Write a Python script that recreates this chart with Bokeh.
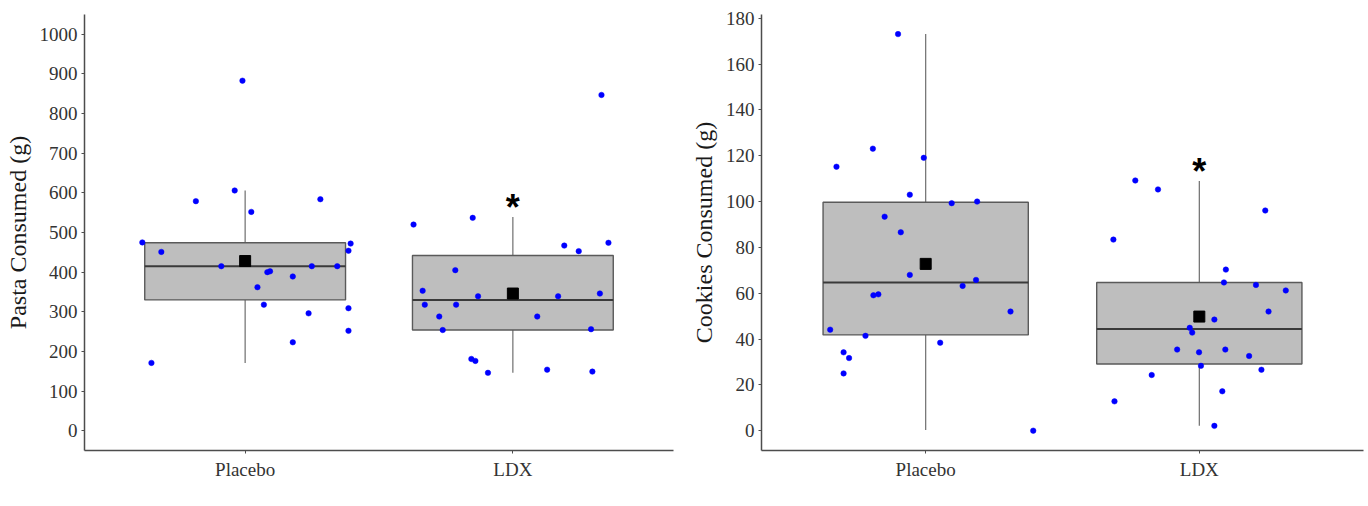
from bokeh.plotting import figure
from bokeh.layouts import row
from bokeh.models import FixedTicker, Range1d, ColumnDataSource
from bokeh.embed import file_html
from bokeh.resources import INLINE
from bokeh.core.properties import value

groups = ["Placebo", "LDX"]

# ---- Pasta panel data (g) ----
pasta_placebo = [883, 579, 606, 552, 584, 475, 472, 451, 454, 415, 400, 402, 389, 415, 415,
                 362, 318, 309, 296, 252, 223, 171]
pasta_placebo_jit = [-0.010, -0.184, -0.039, 0.023, 0.281, -0.384, 0.394, -0.313, 0.386, -0.089,
                     0.083, 0.093, 0.178, 0.249, 0.344, 0.046, 0.070, 0.386, 0.237, 0.386, 0.178, -0.350]
pasta_ldx = [847, 520, 537, 467, 474, 453, 405, 353, 318, 339, 318, 339, 346, 288, 288,
             254, 256, 181, 176, 146, 154, 149]
pasta_ldx_jit = [0.331, -0.371, -0.150, 0.192, 0.357, 0.246, -0.215, -0.337, -0.329, -0.130,
                 -0.212, 0.169, 0.325, -0.275, 0.091, -0.262, 0.292, -0.155, -0.140, -0.093, 0.128, 0.297]
pasta_q1 = [330, 254]
pasta_median = [415, 330]
pasta_q3 = [474, 442]
pasta_lo = [171, 146]
pasta_hi = [606, 539]
pasta_mean = [428, 346]
pasta_sig = [False, True]
pasta_ticks = [0, 100, 200, 300, 400, 500, 600, 700, 800, 900, 1000]

# ---- Cookies panel data (g) ----
cookies_placebo = [173.1, 123.1, 115.2, 119.1, 103.0, 99.3, 100.0, 93.4, 86.6, 68.0, 63.2, 65.8,
                   59.1, 59.5, 52.0, 44.1, 41.4, 38.4, 34.2, 31.7, 25.0, 0.0]
cookies_placebo_jit = [-0.101, -0.193, -0.326, -0.007, -0.058, 0.095, 0.188, -0.150, -0.091, -0.058,
                       0.135, 0.184, -0.191, -0.173, 0.310, -0.349, -0.220, 0.053, -0.300, -0.280,
                       -0.300, 0.393]
cookies_ldx = [109.2, 105.3, 83.4, 96.1, 70.3, 64.7, 63.6, 61.2, 52.0, 48.5, 44.9, 42.8, 35.4,
               34.2, 35.4, 32.6, 28.3, 26.6, 24.3, 17.2, 12.8, 2.1]
cookies_ldx_jit = [-0.234, -0.151, -0.314, 0.241, 0.097, 0.090, 0.207, 0.316, 0.253, 0.055, -0.035,
                   -0.026, -0.081, -0.001, 0.095, 0.182, 0.006, 0.227, -0.174, 0.084, -0.310, 0.055]
cookies_q1 = [41.8, 29.1]
cookies_median = [64.7, 44.4]
cookies_q3 = [99.7, 64.7]
cookies_lo = [0.3, 2.2]
cookies_hi = [173.1, 109.0]
cookies_mean = [72.8, 49.8]
cookies_sig = [False, True]
cookies_ticks = [0, 20, 40, 60, 80, 100, 120, 140, 160, 180]

SERIF = "Liberation Serif"
BOX_W = 0.75


def make_panel(ylabel, pts, jits, q1, med, q3, lo, hi, mean, sig, ticks, ymin, ymax,
               border_left, border_right):
    p = figure(width=684, height=506, output_backend="svg", toolbar_location=None,
               x_range=Range1d(0.4, 2.6), y_range=Range1d(ymin, ymax),
               min_border_left=border_left, min_border_right=border_right,
               min_border_top=14, min_border_bottom=56)
    p.outline_line_color = None
    p.grid.visible = False
    p.background_fill_color = "white"
    p.border_fill_color = "white"

    pos = [1, 2]
    # whiskers
    p.segment(x0=pos, y0=q3, x1=pos, y1=hi, line_color="#6e6e6e", line_width=1.2)
    p.segment(x0=pos, y0=lo, x1=pos, y1=q1, line_color="#6e6e6e", line_width=1.2)
    # boxes
    p.vbar(x=pos, width=BOX_W, bottom=q1, top=q3, fill_color="#bebebe",
           line_color="#5a5a5a", line_width=1.4)
    # medians
    p.segment(x0=[x - BOX_W / 2 for x in pos], y0=med, x1=[x + BOX_W / 2 for x in pos], y1=med,
              line_color="#3a3a3a", line_width=2)
    # jittered points
    for gi, (vals, jit) in enumerate(zip(pts, jits)):
        xs = [pos[gi] + j for j in jit]
        p.scatter(x=xs, y=vals, size=5.5, marker="circle", fill_color="#0000ff",
                  line_color="#0000ff", line_width=0.5)
    # means
    p.scatter(x=pos, y=mean, marker="square", size=11, fill_color="black", line_color="black")
    # significance stars
    sx = [pos[i] for i in range(2) if sig[i]]
    sy = [hi[i] for i in range(2) if sig[i]]
    p.text(x=sx, y=sy, text=["*"] * len(sx), text_align="center", text_baseline="middle",
           y_offset=-9.5, text_font=value("Liberation Sans"), text_font_size="36px",
           text_font_style="bold", text_color="black")

    # axes
    p.xaxis.ticker = FixedTicker(ticks=[1, 2])
    p.xaxis.major_label_overrides = {1: groups[0], 2: groups[1]}
    p.yaxis.ticker = FixedTicker(ticks=ticks)
    for ax in (p.xaxis, p.yaxis):
        ax.axis_line_color = "#4d4d4d"
        ax.axis_line_width = 1.5
        ax.major_tick_line_color = "#4d4d4d"
        ax.major_tick_line_width = 1
        ax.major_tick_in = 0
        ax.major_tick_out = 3
        ax.minor_tick_line_color = None
        ax.major_label_text_font = SERIF
        ax.major_label_text_font_size = "19px"
        ax.major_label_text_color = "#333333"
        ax.major_label_standoff = 4
    p.xaxis.major_label_standoff = 5
    p.yaxis.axis_label = ylabel
    p.yaxis.axis_label_text_font = SERIF
    p.yaxis.axis_label_text_font_size = "24px"
    p.yaxis.axis_label_text_font_style = "normal"
    p.yaxis.axis_label_text_color = "#1a1a1a"
    p.yaxis.axis_label_standoff = 6
    return p


p1 = make_panel("Pasta Consumed (g)", [pasta_placebo, pasta_ldx], [pasta_placebo_jit, pasta_ldx_jit],
                pasta_q1, pasta_median, pasta_q3, pasta_lo, pasta_hi, pasta_mean, pasta_sig,
                pasta_ticks, -50, 1050, 84, 11)
p2 = make_panel("Cookies Consumed (g)", [cookies_placebo, cookies_ldx],
                [cookies_placebo_jit, cookies_ldx_jit],
                cookies_q1, cookies_median, cookies_q3, cookies_lo, cookies_hi, cookies_mean,
                cookies_sig, cookies_ticks, -8.65, 181.65, 77, 5)

layout = row(p1, p2)
open("out.html", "w").write(file_html(layout, INLINE))
